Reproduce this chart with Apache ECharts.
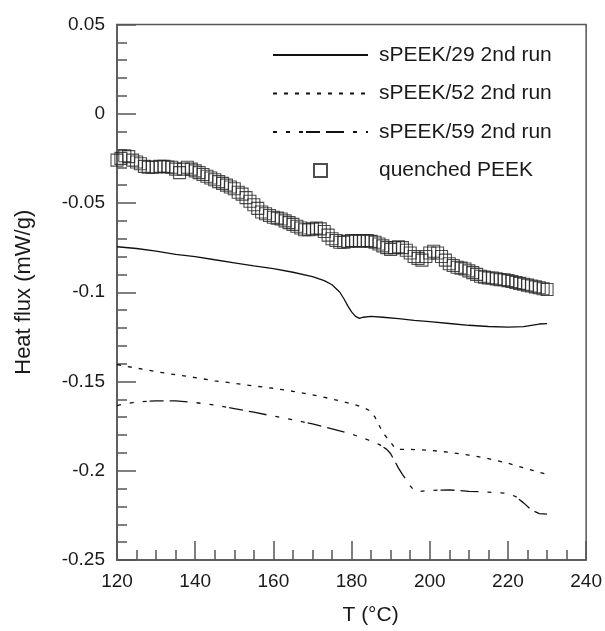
<!DOCTYPE html>
<html>
<head>
<meta charset="utf-8">
<script src="https://cdn.jsdelivr.net/npm/echarts@6/dist/echarts.min.js"></script>
<style>html,body{margin:0;padding:0;background:#fff}#c{width:605px;height:631px}</style>
</head>
<body>
<div id="c"></div>
<script>
// ---- data ----
const xTicks = [120, 140, 160, 180, 200, 220, 240];
const yTicks = [0.05, 0, -0.05, -0.1, -0.15, -0.2, -0.25];
const seriesNames = ['sPEEK/29 2nd run', 'sPEEK/52 2nd run', 'sPEEK/59 2nd run', 'quenched PEEK'];

const speek29T = [120,125,130,135,140,145,150,155,160,165,170,173,175,177,178,179,180,181,182,183,185,188,192,196,200,205,210,215,220,224,226,228,230];
const speek29V = [-0.0745,-0.0755,-0.0770,-0.0788,-0.0800,-0.0818,-0.0835,-0.0852,-0.0868,-0.0888,-0.0912,-0.0935,-0.0958,-0.1000,-0.1035,-0.1075,-0.1110,-0.1135,-0.1146,-0.1140,-0.1135,-0.1140,-0.1148,-0.1157,-0.1165,-0.1175,-0.1185,-0.1192,-0.1195,-0.1193,-0.1185,-0.1178,-0.1176];

const speek52T = [120,125,130,135,140,145,150,155,160,165,170,175,180,183,185,186,187,188,189,190,191,192,195,200,205,210,215,220,225,230];
const speek52V = [-0.1405,-0.1425,-0.1445,-0.1462,-0.1478,-0.1496,-0.1510,-0.1525,-0.1538,-0.1555,-0.1575,-0.1598,-0.1625,-0.1645,-0.1668,-0.1700,-0.1745,-0.1785,-0.1815,-0.1840,-0.1870,-0.1880,-0.1880,-0.1885,-0.1897,-0.1912,-0.1932,-0.1958,-0.1990,-0.2020];

const speek59T = [120,122,125,130,135,140,145,150,155,160,165,170,175,180,184,187,189,190,191,192,193,194,195,196,197,200,205,210,215,220,222,224,226,228,230];
const speek59V = [-0.1635,-0.1625,-0.1615,-0.1608,-0.1608,-0.1618,-0.1632,-0.1652,-0.1672,-0.1694,-0.1714,-0.1738,-0.1765,-0.1795,-0.1825,-0.1852,-0.1880,-0.1905,-0.1945,-0.1985,-0.2020,-0.2050,-0.2085,-0.2110,-0.2117,-0.2110,-0.2107,-0.2115,-0.2120,-0.2127,-0.2145,-0.2180,-0.2220,-0.2240,-0.2243];

const peekT = [120,121,122,123,124,125,126,127,128,129,130,131,132,133,134,135,136,137,138,139,140,141,142,143,144,145,146,147,148,149,150,151,152,153,154,155,156,157,158,159,160,161,162,163,164,165,166,167,168,169,170,171,172,173,174,175,176,177,178,179,180,181,182,183,184,185,186,187,188,189,190,191,192,193,194,195,196,197,198,199,200,201,202,203,204,205,206,207,208,209,210,211,212,213,214,215,216,217,218,219,220,221,222,223,224,225,226,227,228,229,230];
const peekV = [-0.026,-0.025,-0.0235,-0.024,-0.026,-0.027,-0.028,-0.0295,-0.030,-0.030,-0.0298,-0.0295,-0.0295,-0.0298,-0.030,-0.031,-0.033,-0.031,-0.030,-0.031,-0.032,-0.033,-0.034,-0.035,-0.036,-0.037,-0.038,-0.039,-0.040,-0.041,-0.042,-0.044,-0.045,-0.047,-0.049,-0.051,-0.053,-0.055,-0.056,-0.057,-0.058,-0.0585,-0.059,-0.060,-0.061,-0.062,-0.063,-0.064,-0.065,-0.065,-0.0645,-0.064,-0.0645,-0.066,-0.068,-0.070,-0.071,-0.072,-0.072,-0.0715,-0.071,-0.071,-0.0715,-0.071,-0.071,-0.0715,-0.072,-0.073,-0.074,-0.075,-0.076,-0.075,-0.0745,-0.075,-0.0765,-0.078,-0.080,-0.081,-0.082,-0.080,-0.078,-0.077,-0.078,-0.080,-0.082,-0.084,-0.085,-0.086,-0.0865,-0.087,-0.088,-0.089,-0.090,-0.091,-0.0915,-0.092,-0.092,-0.0925,-0.093,-0.093,-0.0935,-0.094,-0.0945,-0.095,-0.0955,-0.096,-0.0965,-0.097,-0.0975,-0.098,-0.0985];

const zip = (a, b) => a.map((x, i) => [x, b[i]]);

const FONT = "'Liberation Sans', Arial, Helvetica, sans-serif";
const TXT = '#1a1a1a';
const AX = '#555';

const chart = echarts.init(document.getElementById('c'), null, {renderer: 'canvas'});
chart.setOption({
  animation: false,
  backgroundColor: '#fff',
  grid: {left: 117, top: 24.5, right: 17, bottom: 71, show: true, borderColor: AX, borderWidth: 1.5, backgroundColor: 'transparent'},
  legend: {
    orient: 'vertical', left: 272, top: 44, padding: 0,
    itemWidth: 95, itemHeight: 13, itemGap: 16.5,
    symbolKeepAspect: true,
    textStyle: {fontFamily: FONT, fontSize: 21, color: TXT, lineHeight: 22, padding: [0, 0, 0, 6]},
    data: [
      {name: seriesNames[0], itemStyle: {opacity: 0}},
      {name: seriesNames[1], itemStyle: {opacity: 0}},
      {name: seriesNames[2], itemStyle: {opacity: 0}},
      {name: seriesNames[3], icon: 'path://M0,0L10,0L10,10L0,10Z'}
    ]
  },
  xAxis: {
    type: 'value', min: xTicks[0], max: xTicks[xTicks.length - 1], interval: 20,
    name: 'T (°C)', nameLocation: 'middle', nameGap: 45,
    nameTextStyle: {fontFamily: FONT, fontSize: 21, color: TXT, padding: [0, 0, 0, 38]},
    axisLine: {show: true, onZero: false, lineStyle: {color: AX, width: 1.5}},
    axisTick: {show: true, inside: true, length: 19, lineStyle: {color: AX, width: 1.5}},
    minorTick: {show: true, splitNumber: 4, length: 10, lineStyle: {color: AX, width: 1.5}},
    axisLabel: {fontFamily: FONT, fontSize: 19, color: TXT, margin: 12},
    splitLine: {show: false}
  },
  yAxis: {
    type: 'value', min: yTicks[yTicks.length - 1], max: yTicks[0], interval: 0.05,
    name: 'Heat flux (mW/g)', nameLocation: 'middle', nameGap: 82, nameRotate: 90,
    nameTextStyle: {fontFamily: FONT, fontSize: 22, color: TXT},
    axisLine: {show: true, onZero: false, lineStyle: {color: AX, width: 1.5}},
    axisTick: {show: true, inside: true, length: 19, lineStyle: {color: AX, width: 1.5}},
    minorTick: {show: true, splitNumber: 5, length: 10, lineStyle: {color: AX, width: 1.5}},
    axisLabel: {fontFamily: FONT, fontSize: 19, color: TXT, margin: 12,
      formatter: v => String(parseFloat(v.toFixed(2)))},
    splitLine: {show: false}
  },
  series: [
    {name: seriesNames[0], type: 'line', data: zip(speek29T, speek29V), showSymbol: false, symbol: 'none',
      lineStyle: {color: '#111', width: 1.3, type: 'solid'}, itemStyle: {color: '#111'}},
    {name: seriesNames[1], type: 'line', data: zip(speek52T, speek52V), showSymbol: false, symbol: 'none',
      lineStyle: {color: '#111', width: 1.3, type: [4, 7]}, itemStyle: {color: '#111'}},
    {name: seriesNames[2], type: 'line', data: zip(speek59T, speek59V), showSymbol: false, symbol: 'none',
      lineStyle: {color: '#111', width: 1.3, type: [4, 9, 4, 9, 4, 3, 14, 6, 18, 9]}, itemStyle: {color: '#111'}},
    {name: seriesNames[3], type: 'scatter', data: zip(peekT, peekV), symbol: 'rect', symbolSize: 12,
      itemStyle: {color: 'rgba(0,0,0,0)', borderColor: '#222', borderWidth: 1.1}}
  ]
});
</script>
</body>
</html>
